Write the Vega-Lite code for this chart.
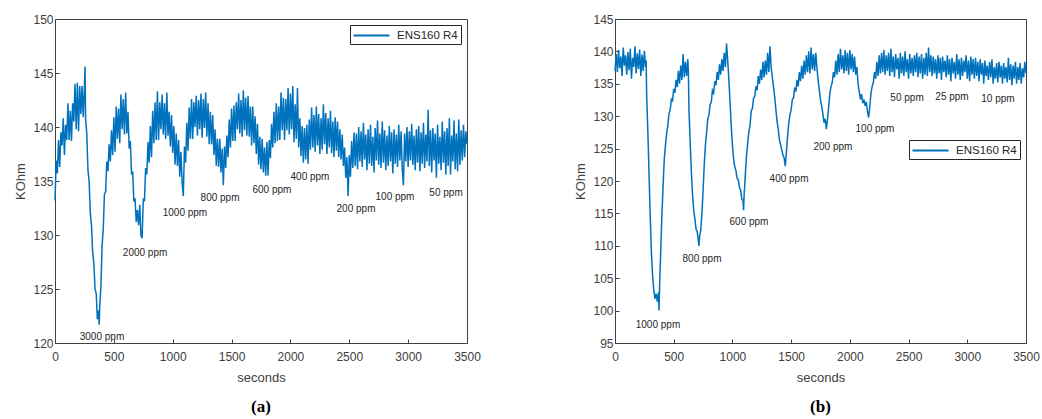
{
  "$schema": "https://vega.github.io/schema/vega-lite/v6.json",
  "padding": {"left": 14, "top": 12, "right": 0, "bottom": 2},
  "background": "white",
  "spacing": 93,
  "config": {
    "view": {"stroke": "#404040", "strokeWidth": 1},
    "axis": {
      "labelFont": "Liberation Sans", "labelFontSize": 12, "labelColor": "#404040", "labelOverlap": false,
      "titleFont": "Liberation Sans", "titleFontSize": 13, "titleFontWeight": "normal", "titleColor": "#404040",
      "domainColor": "#404040", "tickColor": "#404040", "grid": false,
      "tickSize": -4, "labelPadding": 6
    },
    "legend": {
      "title": null, "strokeColor": "#262626", "padding": 3, "fillColor": "white",
      "symbolType": "M-3,0H3", "symbolSize": 144, "symbolStrokeWidth": 2.2, "symbolOffset": 11,
      "labelFont": "Liberation Sans", "labelFontSize": 11.5, "labelColor": "#262626", "labelOffset": 18,
      "cornerRadius": 0
    },
    "title": {"font": "Liberation Serif", "fontSize": 17, "fontWeight": "bold", "color": "#000000"}
  },
  "datasets": {
    "a": [
      {"t":0,"v":133.2},{"t":10,"v":136.9},{"t":20,"v":135.7},{"t":30,"v":138.8},{"t":40,"v":136.3},{"t":50,"v":139.5},{"t":60,"v":138.3},{"t":70,"v":140.8},{"t":80,"v":137.4},{"t":90,"v":140.2},{"t":100,"v":138.8},{"t":110,"v":142.2},{"t":120,"v":138.8},{"t":130,"v":141.5},{"t":140,"v":138.7},{"t":150,"v":142.2},{"t":160,"v":140.5},{"t":170,"v":144.0},{"t":180,"v":139.8},{"t":190,"v":144.1},{"t":200,"v":139.6},{"t":210,"v":143.8},{"t":220,"v":141.2},{"t":230,"v":143.8},{"t":240,"v":140.9},{"t":250,"v":143.7},{"t":255,"v":145.6},{"t":260,"v":140.8},{"t":270,"v":139.4},{"t":280,"v":136.0},{"t":290,"v":135.0},{"t":300,"v":132.0},{"t":310,"v":130.9},{"t":320,"v":128.4},{"t":330,"v":127.4},{"t":340,"v":125.0},{"t":350,"v":124.6},{"t":360,"v":122.2},{"t":370,"v":123.0},{"t":375,"v":121.7},{"t":380,"v":123.4},{"t":390,"v":125.2},{"t":400,"v":129.0},{"t":410,"v":130.6},{"t":420,"v":133.8},{"t":430,"v":134.0},{"t":440,"v":136.8},{"t":450,"v":135.9},{"t":460,"v":138.4},{"t":470,"v":136.8},{"t":480,"v":139.7},{"t":490,"v":137.4},{"t":500,"v":140.9},{"t":510,"v":137.7},{"t":520,"v":141.9},{"t":530,"v":138.9},{"t":540,"v":141.7},{"t":550,"v":138.5},{"t":560,"v":143.0},{"t":570,"v":139.8},{"t":580,"v":142.6},{"t":590,"v":139.3},{"t":600,"v":143.2},{"t":610,"v":139.4},{"t":620,"v":141.4},{"t":630,"v":138.0},{"t":640,"v":138.7},{"t":650,"v":135.7},{"t":660,"v":135.8},{"t":670,"v":133.1},{"t":680,"v":133.4},{"t":690,"v":131.2},{"t":700,"v":132.3},{"t":710,"v":130.9},{"t":720,"v":132.8},{"t":730,"v":130.0},{"t":740,"v":129.7},{"t":750,"v":133.3},{"t":760,"v":133.2},{"t":770,"v":136.2},{"t":780,"v":135.6},{"t":790,"v":138.6},{"t":800,"v":136.7},{"t":810,"v":140.1},{"t":820,"v":137.2},{"t":830,"v":141.5},{"t":840,"v":138.5},{"t":850,"v":142.3},{"t":860,"v":138.8},{"t":870,"v":143.3},{"t":880,"v":138.8},{"t":890,"v":142.3},{"t":900,"v":139.8},{"t":910,"v":143.0},{"t":920,"v":139.3},{"t":930,"v":142.2},{"t":940,"v":138.9},{"t":950,"v":143.2},{"t":960,"v":139.2},{"t":970,"v":141.4},{"t":980,"v":138.2},{"t":990,"v":141.1},{"t":1000,"v":137.6},{"t":1010,"v":140.1},{"t":1020,"v":136.5},{"t":1030,"v":139.4},{"t":1040,"v":136.4},{"t":1050,"v":138.8},{"t":1060,"v":135.4},{"t":1070,"v":137.7},{"t":1080,"v":134.8},{"t":1090,"v":133.6},{"t":1100,"v":138.2},{"t":1110,"v":136.7},{"t":1120,"v":140.4},{"t":1130,"v":137.8},{"t":1140,"v":141.8},{"t":1150,"v":138.9},{"t":1160,"v":142.6},{"t":1170,"v":138.9},{"t":1180,"v":142.3},{"t":1190,"v":140.0},{"t":1200,"v":142.9},{"t":1210,"v":139.2},{"t":1220,"v":142.5},{"t":1230,"v":139.8},{"t":1240,"v":143.1},{"t":1250,"v":139.0},{"t":1260,"v":142.6},{"t":1270,"v":139.9},{"t":1280,"v":143.2},{"t":1290,"v":139.1},{"t":1300,"v":142.2},{"t":1310,"v":138.4},{"t":1320,"v":141.4},{"t":1330,"v":138.4},{"t":1340,"v":141.1},{"t":1350,"v":137.4},{"t":1360,"v":139.8},{"t":1370,"v":136.4},{"t":1380,"v":138.9},{"t":1390,"v":136.3},{"t":1400,"v":138.9},{"t":1410,"v":135.8},{"t":1420,"v":138.0},{"t":1430,"v":134.6},{"t":1440,"v":138.2},{"t":1450,"v":136.2},{"t":1460,"v":139.2},{"t":1470,"v":137.2},{"t":1480,"v":140.7},{"t":1490,"v":138.1},{"t":1500,"v":141.7},{"t":1510,"v":138.7},{"t":1520,"v":142.0},{"t":1530,"v":138.7},{"t":1540,"v":142.3},{"t":1550,"v":139.8},{"t":1560,"v":143.1},{"t":1570,"v":139.4},{"t":1580,"v":142.5},{"t":1590,"v":139.1},{"t":1600,"v":143.4},{"t":1610,"v":139.7},{"t":1620,"v":142.7},{"t":1630,"v":139.2},{"t":1640,"v":142.9},{"t":1650,"v":139.1},{"t":1660,"v":141.9},{"t":1670,"v":138.3},{"t":1680,"v":141.9},{"t":1690,"v":138.5},{"t":1700,"v":141.0},{"t":1710,"v":137.5},{"t":1720,"v":140.3},{"t":1730,"v":136.5},{"t":1740,"v":139.1},{"t":1750,"v":136.1},{"t":1760,"v":138.9},{"t":1770,"v":135.8},{"t":1780,"v":138.1},{"t":1790,"v":135.5},{"t":1800,"v":138.6},{"t":1810,"v":135.5},{"t":1820,"v":138.8},{"t":1830,"v":137.1},{"t":1840,"v":140.3},{"t":1850,"v":138.1},{"t":1860,"v":141.4},{"t":1870,"v":138.5},{"t":1880,"v":142.2},{"t":1890,"v":138.7},{"t":1900,"v":141.9},{"t":1910,"v":138.8},{"t":1920,"v":143.2},{"t":1930,"v":139.7},{"t":1940,"v":142.7},{"t":1950,"v":138.8},{"t":1960,"v":142.6},{"t":1970,"v":139.7},{"t":1980,"v":143.6},{"t":1990,"v":139.3},{"t":2000,"v":143.1},{"t":2010,"v":139.8},{"t":2020,"v":143.8},{"t":2030,"v":138.6},{"t":2040,"v":142.1},{"t":2050,"v":138.9},{"t":2060,"v":143.6},{"t":2070,"v":138.1},{"t":2080,"v":140.8},{"t":2090,"v":137.3},{"t":2100,"v":140.1},{"t":2110,"v":136.7},{"t":2120,"v":139.9},{"t":2130,"v":137.0},{"t":2140,"v":140.2},{"t":2150,"v":136.6},{"t":2160,"v":140.7},{"t":2170,"v":137.9},{"t":2180,"v":141.8},{"t":2190,"v":138.1},{"t":2200,"v":141.1},{"t":2210,"v":137.7},{"t":2220,"v":141.9},{"t":2230,"v":138.3},{"t":2240,"v":141.2},{"t":2250,"v":137.5},{"t":2260,"v":140.8},{"t":2270,"v":137.9},{"t":2280,"v":142.1},{"t":2290,"v":138.4},{"t":2300,"v":141.3},{"t":2310,"v":137.5},{"t":2320,"v":140.8},{"t":2330,"v":138.1},{"t":2340,"v":141.5},{"t":2350,"v":137.6},{"t":2360,"v":140.5},{"t":2370,"v":137.2},{"t":2380,"v":140.9},{"t":2390,"v":137.8},{"t":2400,"v":140.5},{"t":2410,"v":137.2},{"t":2420,"v":139.8},{"t":2430,"v":137.0},{"t":2440,"v":139.3},{"t":2450,"v":136.4},{"t":2460,"v":138.1},{"t":2470,"v":135.3},{"t":2480,"v":137.2},{"t":2490,"v":133.6},{"t":2500,"v":137.4},{"t":2510,"v":135.4},{"t":2520,"v":138.7},{"t":2530,"v":136.2},{"t":2540,"v":139.5},{"t":2550,"v":136.4},{"t":2560,"v":139.4},{"t":2570,"v":136.1},{"t":2580,"v":140.0},{"t":2590,"v":136.8},{"t":2600,"v":139.6},{"t":2610,"v":136.3},{"t":2620,"v":140.4},{"t":2630,"v":137.0},{"t":2640,"v":139.3},{"t":2650,"v":136.0},{"t":2660,"v":139.8},{"t":2670,"v":136.6},{"t":2680,"v":140.2},{"t":2690,"v":136.4},{"t":2700,"v":139.1},{"t":2710,"v":135.8},{"t":2720,"v":139.9},{"t":2730,"v":136.9},{"t":2740,"v":140.6},{"t":2750,"v":136.5},{"t":2760,"v":139.4},{"t":2770,"v":136.2},{"t":2780,"v":140.5},{"t":2790,"v":136.7},{"t":2800,"v":139.7},{"t":2810,"v":136.0},{"t":2820,"v":139.2},{"t":2830,"v":136.4},{"t":2840,"v":140.1},{"t":2850,"v":136.8},{"t":2860,"v":139.5},{"t":2870,"v":135.7},{"t":2880,"v":139.8},{"t":2890,"v":136.6},{"t":2900,"v":139.3},{"t":2910,"v":136.3},{"t":2920,"v":140.2},{"t":2930,"v":136.9},{"t":2940,"v":139.6},{"t":2950,"v":136.1},{"t":2960,"v":134.6},{"t":2970,"v":139.4},{"t":2980,"v":136.8},{"t":2990,"v":140.0},{"t":3000,"v":136.3},{"t":3010,"v":139.6},{"t":3020,"v":136.9},{"t":3030,"v":140.3},{"t":3040,"v":136.5},{"t":3050,"v":139.2},{"t":3060,"v":136.0},{"t":3070,"v":139.8},{"t":3080,"v":136.7},{"t":3090,"v":140.1},{"t":3100,"v":135.9},{"t":3110,"v":139.5},{"t":3120,"v":136.6},{"t":3130,"v":140.4},{"t":3140,"v":136.2},{"t":3150,"v":139.3},{"t":3160,"v":136.8},{"t":3170,"v":141.6},{"t":3180,"v":136.4},{"t":3190,"v":139.7},{"t":3200,"v":135.8},{"t":3210,"v":139.9},{"t":3220,"v":136.9},{"t":3230,"v":139.4},{"t":3240,"v":135.3},{"t":3250,"v":140.2},{"t":3260,"v":136.6},{"t":3270,"v":139.1},{"t":3280,"v":136.0},{"t":3290,"v":140.5},{"t":3300,"v":136.7},{"t":3310,"v":139.6},{"t":3320,"v":135.6},{"t":3330,"v":139.9},{"t":3340,"v":136.4},{"t":3350,"v":140.8},{"t":3360,"v":135.6},{"t":3370,"v":139.2},{"t":3380,"v":136.8},{"t":3390,"v":140.6},{"t":3400,"v":136.1},{"t":3410,"v":139.4},{"t":3420,"v":135.9},{"t":3430,"v":140.7},{"t":3440,"v":136.5},{"t":3450,"v":139.7},{"t":3460,"v":136.9},{"t":3470,"v":140.2},{"t":3480,"v":137.2},{"t":3490,"v":139.6},{"t":3500,"v":138.4}
    ],
    "b": [
      {"t":0,"v":137.0},{"t":10,"v":139.6},{"t":20,"v":136.8},{"t":30,"v":140.2},{"t":40,"v":137.4},{"t":50,"v":139.2},{"t":60,"v":136.2},{"t":70,"v":140.6},{"t":80,"v":137.8},{"t":90,"v":139.4},{"t":100,"v":136.4},{"t":110,"v":139.9},{"t":120,"v":137.1},{"t":130,"v":140.4},{"t":140,"v":135.8},{"t":150,"v":139.0},{"t":160,"v":137.6},{"t":170,"v":140.8},{"t":180,"v":136.6},{"t":190,"v":139.7},{"t":200,"v":137.3},{"t":210,"v":140.3},{"t":220,"v":136.2},{"t":230,"v":139.5},{"t":240,"v":137.0},{"t":250,"v":140.1},{"t":260,"v":137.6},{"t":265,"v":138.6},{"t":270,"v":133.0},{"t":280,"v":127.5},{"t":290,"v":121.0},{"t":300,"v":114.5},{"t":310,"v":109.0},{"t":320,"v":105.5},{"t":330,"v":103.2},{"t":340,"v":101.8},{"t":350,"v":102.6},{"t":360,"v":101.4},{"t":370,"v":102.8},{"t":375,"v":100.0},{"t":380,"v":104.0},{"t":390,"v":109.5},{"t":400,"v":115.0},{"t":410,"v":119.5},{"t":420,"v":123.5},{"t":430,"v":125.6},{"t":440,"v":127.4},{"t":450,"v":128.6},{"t":460,"v":130.4},{"t":470,"v":131.0},{"t":480,"v":132.6},{"t":490,"v":132.4},{"t":500,"v":134.2},{"t":510,"v":133.6},{"t":520,"v":135.6},{"t":530,"v":134.5},{"t":540,"v":137.0},{"t":550,"v":135.0},{"t":560,"v":137.8},{"t":570,"v":135.6},{"t":580,"v":139.6},{"t":590,"v":136.0},{"t":600,"v":138.4},{"t":610,"v":136.2},{"t":620,"v":138.8},{"t":625,"v":136.8},{"t":630,"v":131.0},{"t":640,"v":126.0},{"t":650,"v":121.5},{"t":660,"v":118.0},{"t":670,"v":115.5},{"t":680,"v":114.2},{"t":690,"v":112.6},{"t":700,"v":112.2},{"t":710,"v":110.8},{"t":715,"v":110.0},{"t":720,"v":111.4},{"t":730,"v":112.4},{"t":740,"v":115.0},{"t":750,"v":118.5},{"t":760,"v":122.5},{"t":770,"v":125.6},{"t":780,"v":127.4},{"t":790,"v":129.6},{"t":800,"v":130.2},{"t":810,"v":131.8},{"t":820,"v":132.2},{"t":830,"v":134.0},{"t":840,"v":133.6},{"t":850,"v":135.4},{"t":860,"v":134.8},{"t":870,"v":136.8},{"t":880,"v":135.6},{"t":890,"v":138.0},{"t":900,"v":136.4},{"t":910,"v":138.8},{"t":920,"v":137.0},{"t":930,"v":139.8},{"t":940,"v":137.6},{"t":950,"v":141.2},{"t":960,"v":138.5},{"t":970,"v":135.5},{"t":980,"v":132.0},{"t":990,"v":128.5},{"t":1000,"v":125.5},{"t":1010,"v":123.4},{"t":1020,"v":122.2},{"t":1030,"v":121.6},{"t":1040,"v":120.4},{"t":1050,"v":120.2},{"t":1060,"v":119.0},{"t":1070,"v":118.6},{"t":1080,"v":117.2},{"t":1090,"v":117.0},{"t":1095,"v":115.5},{"t":1100,"v":118.0},{"t":1110,"v":121.0},{"t":1120,"v":124.0},{"t":1130,"v":125.8},{"t":1140,"v":127.6},{"t":1150,"v":128.6},{"t":1160,"v":130.8},{"t":1170,"v":131.2},{"t":1180,"v":132.8},{"t":1190,"v":133.0},{"t":1200,"v":134.6},{"t":1210,"v":134.0},{"t":1220,"v":136.2},{"t":1230,"v":135.0},{"t":1240,"v":137.2},{"t":1250,"v":135.6},{"t":1260,"v":138.4},{"t":1270,"v":136.0},{"t":1280,"v":138.6},{"t":1290,"v":136.4},{"t":1300,"v":139.8},{"t":1310,"v":136.8},{"t":1320,"v":140.8},{"t":1330,"v":137.4},{"t":1340,"v":136.0},{"t":1350,"v":134.5},{"t":1360,"v":133.0},{"t":1370,"v":131.0},{"t":1380,"v":129.2},{"t":1390,"v":128.0},{"t":1400,"v":126.4},{"t":1410,"v":125.6},{"t":1420,"v":124.8},{"t":1430,"v":124.0},{"t":1440,"v":123.6},{"t":1450,"v":122.3},{"t":1460,"v":124.5},{"t":1470,"v":127.0},{"t":1480,"v":129.0},{"t":1490,"v":130.2},{"t":1500,"v":131.0},{"t":1510,"v":132.6},{"t":1520,"v":132.8},{"t":1530,"v":134.4},{"t":1540,"v":133.8},{"t":1550,"v":135.6},{"t":1560,"v":134.6},{"t":1570,"v":136.8},{"t":1580,"v":135.4},{"t":1590,"v":137.8},{"t":1600,"v":135.8},{"t":1610,"v":138.6},{"t":1620,"v":136.4},{"t":1630,"v":139.4},{"t":1640,"v":136.8},{"t":1650,"v":140.0},{"t":1660,"v":136.6},{"t":1670,"v":140.6},{"t":1680,"v":137.2},{"t":1690,"v":139.6},{"t":1700,"v":137.0},{"t":1710,"v":139.8},{"t":1720,"v":137.4},{"t":1730,"v":135.5},{"t":1740,"v":134.0},{"t":1750,"v":132.5},{"t":1760,"v":131.5},{"t":1770,"v":130.4},{"t":1780,"v":129.0},{"t":1790,"v":129.6},{"t":1800,"v":128.0},{"t":1810,"v":129.5},{"t":1820,"v":131.5},{"t":1830,"v":133.6},{"t":1840,"v":134.6},{"t":1850,"v":135.2},{"t":1860,"v":136.8},{"t":1870,"v":136.0},{"t":1880,"v":138.6},{"t":1890,"v":136.4},{"t":1900,"v":139.6},{"t":1910,"v":136.8},{"t":1920,"v":140.4},{"t":1930,"v":137.2},{"t":1940,"v":139.4},{"t":1950,"v":136.6},{"t":1960,"v":140.2},{"t":1970,"v":137.0},{"t":1980,"v":139.8},{"t":1990,"v":136.4},{"t":2000,"v":140.2},{"t":2010,"v":137.2},{"t":2020,"v":139.6},{"t":2030,"v":136.8},{"t":2040,"v":139.2},{"t":2050,"v":136.4},{"t":2060,"v":137.6},{"t":2070,"v":135.0},{"t":2080,"v":133.8},{"t":2090,"v":132.6},{"t":2100,"v":133.4},{"t":2110,"v":132.0},{"t":2120,"v":132.6},{"t":2130,"v":131.6},{"t":2140,"v":132.2},{"t":2150,"v":130.8},{"t":2160,"v":129.8},{"t":2170,"v":131.5},{"t":2180,"v":133.6},{"t":2190,"v":134.6},{"t":2200,"v":135.2},{"t":2210,"v":136.8},{"t":2220,"v":135.8},{"t":2230,"v":138.4},{"t":2240,"v":136.2},{"t":2250,"v":139.4},{"t":2260,"v":136.6},{"t":2270,"v":139.8},{"t":2280,"v":136.8},{"t":2290,"v":140.2},{"t":2300,"v":136.4},{"t":2310,"v":139.4},{"t":2320,"v":137.0},{"t":2330,"v":139.8},{"t":2340,"v":136.2},{"t":2350,"v":140.4},{"t":2360,"v":136.8},{"t":2370,"v":139.2},{"t":2380,"v":136.0},{"t":2390,"v":139.6},{"t":2400,"v":137.2},{"t":2410,"v":139.0},{"t":2420,"v":135.8},{"t":2430,"v":139.8},{"t":2440,"v":136.6},{"t":2450,"v":139.2},{"t":2460,"v":136.2},{"t":2470,"v":140.0},{"t":2480,"v":136.8},{"t":2490,"v":138.8},{"t":2500,"v":135.8},{"t":2510,"v":139.6},{"t":2520,"v":136.6},{"t":2530,"v":139.0},{"t":2540,"v":136.2},{"t":2550,"v":139.4},{"t":2560,"v":136.8},{"t":2570,"v":139.8},{"t":2580,"v":136.0},{"t":2590,"v":139.2},{"t":2600,"v":136.6},{"t":2610,"v":139.6},{"t":2620,"v":135.8},{"t":2630,"v":139.0},{"t":2640,"v":136.4},{"t":2650,"v":139.8},{"t":2660,"v":136.2},{"t":2670,"v":140.6},{"t":2680,"v":136.8},{"t":2690,"v":139.4},{"t":2700,"v":136.2},{"t":2710,"v":139.2},{"t":2720,"v":136.6},{"t":2730,"v":138.8},{"t":2740,"v":135.8},{"t":2750,"v":139.4},{"t":2760,"v":136.6},{"t":2770,"v":139.0},{"t":2780,"v":135.6},{"t":2790,"v":139.2},{"t":2800,"v":136.8},{"t":2810,"v":138.6},{"t":2820,"v":136.0},{"t":2830,"v":139.4},{"t":2840,"v":136.4},{"t":2850,"v":138.8},{"t":2860,"v":135.4},{"t":2870,"v":139.0},{"t":2880,"v":136.6},{"t":2890,"v":138.4},{"t":2900,"v":135.8},{"t":2910,"v":139.6},{"t":2920,"v":136.4},{"t":2930,"v":138.8},{"t":2940,"v":135.6},{"t":2950,"v":139.0},{"t":2960,"v":136.2},{"t":2970,"v":138.6},{"t":2980,"v":136.8},{"t":2990,"v":139.4},{"t":3000,"v":135.8},{"t":3010,"v":138.6},{"t":3020,"v":135.4},{"t":3030,"v":139.2},{"t":3040,"v":136.4},{"t":3050,"v":138.8},{"t":3060,"v":135.8},{"t":3070,"v":139.0},{"t":3080,"v":136.2},{"t":3090,"v":138.4},{"t":3100,"v":135.4},{"t":3110,"v":138.8},{"t":3120,"v":136.4},{"t":3130,"v":138.2},{"t":3140,"v":135.0},{"t":3150,"v":138.6},{"t":3160,"v":136.2},{"t":3170,"v":137.8},{"t":3180,"v":135.6},{"t":3190,"v":138.4},{"t":3200,"v":136.0},{"t":3210,"v":138.8},{"t":3220,"v":135.0},{"t":3230,"v":137.6},{"t":3240,"v":135.8},{"t":3250,"v":138.2},{"t":3260,"v":135.2},{"t":3270,"v":138.4},{"t":3280,"v":136.0},{"t":3290,"v":137.8},{"t":3300,"v":135.0},{"t":3310,"v":138.2},{"t":3320,"v":135.8},{"t":3330,"v":137.6},{"t":3340,"v":135.2},{"t":3350,"v":139.0},{"t":3360,"v":135.6},{"t":3370,"v":138.0},{"t":3380,"v":134.8},{"t":3390,"v":137.8},{"t":3400,"v":135.8},{"t":3410,"v":138.4},{"t":3420,"v":135.0},{"t":3430,"v":137.6},{"t":3440,"v":135.6},{"t":3450,"v":138.2},{"t":3460,"v":135.0},{"t":3470,"v":137.4},{"t":3480,"v":136.0},{"t":3490,"v":138.4},{"t":3500,"v":136.6}
    ],
    "la": [
      {"t":399,"v":120.6,"label":"3000 ppm"},{"t":765,"v":128.3,"label":"2000 ppm"},{"t":1104,"v":132.0,"label":"1000 ppm"},{"t":1402,"v":133.4,"label":"800 ppm"},{"t":1843,"v":134.2,"label":"600 ppm"},{"t":2166,"v":135.4,"label":"400 ppm"},{"t":2557,"v":132.4,"label":"200 ppm"},{"t":2888,"v":133.5,"label":"100 ppm"},{"t":3322,"v":133.9,"label":"50 ppm"}
    ],
    "lb": [
      {"t":366,"v":97.8,"label":"1000 ppm"},{"t":741,"v":108.0,"label":"800 ppm"},{"t":1141,"v":113.7,"label":"600 ppm"},{"t":1482,"v":120.3,"label":"400 ppm"},{"t":1856,"v":125.25,"label":"200 ppm"},{"t":2214,"v":128.0,"label":"100 ppm"},{"t":2487,"v":132.8,"label":"50 ppm"},{"t":2870,"v":133.0,"label":"25 ppm"},{"t":3261,"v":132.6,"label":"10 ppm"}
    ]
  },
  "resolve": {"scale": {"color": "independent"}, "legend": {"color": "independent"}},
  "hconcat": [
    {
      "width": 412, "height": 324,
      "title": {"text": "(a)", "orient": "bottom", "offset": 15},
      "layer": [
        {
          "data": {"name": "a"},
          "mark": {"type": "line", "strokeWidth": 1.5},
          "encoding": {
            "x": {"field": "t", "type": "quantitative", "scale": {"domain": [0, 3500], "nice": false, "zero": false}, "axis": {"values": [0,500,1000,1500,2000,2500,3000,3500], "format": "d", "title": "seconds", "labelPadding": 12, "titlePadding": 9, "labelFlush": false, "labelOverlap": false}},
            "y": {"field": "v", "type": "quantitative", "scale": {"domain": [120, 150], "nice": false, "zero": false}, "axis": {"values": [120,125,130,135,140,145,150], "title": "KOhm", "titlePadding": 5, "labelOverlap": false}},
            "color": {"datum": "ENS160 R4", "scale": {"range": ["#0072BD"]}, "legend": {"orient": "top-right", "offset": 6}}
          }
        },
        {
          "data": {"name": "la"},
          "mark": {"type": "text", "font": "Liberation Sans", "fontSize": 10, "color": "#262626", "align": "center", "baseline": "middle"},
          "encoding": {
            "x": {"field": "t", "type": "quantitative", "axis": {"values": [0,500,1000,1500,2000,2500,3000,3500], "format": "d", "title": "seconds", "labelPadding": 12, "titlePadding": 9, "labelFlush": false, "labelOverlap": false}},
            "y": {"field": "v", "type": "quantitative", "axis": {"values": [120,125,130,135,140,145,150], "title": "KOhm", "titlePadding": 5, "labelOverlap": false}},
            "text": {"field": "label"}
          }
        }
      ]
    },
    {
      "width": 411, "height": 324,
      "title": {"text": "(b)", "orient": "bottom", "offset": 15},
      "layer": [
        {
          "data": {"name": "b"},
          "mark": {"type": "line", "strokeWidth": 1.5},
          "encoding": {
            "x": {"field": "t", "type": "quantitative", "scale": {"domain": [0, 3500], "nice": false, "zero": false}, "axis": {"values": [0,500,1000,1500,2000,2500,3000,3500], "format": "d", "title": "seconds", "labelPadding": 12, "titlePadding": 9, "labelFlush": false, "labelOverlap": false}},
            "y": {"field": "v", "type": "quantitative", "scale": {"domain": [95, 145], "nice": false, "zero": false}, "axis": {"values": [95,100,105,110,115,120,125,130,135,140,145], "title": "KOhm", "titlePadding": 5, "labelOverlap": false, "labelSeparation": 0}},
            "color": {"datum": "ENS160 R4", "scale": {"range": ["#0072BD"]}, "legend": {"orient": "none", "legendX": 294, "legendY": 121}}
          }
        },
        {
          "data": {"name": "lb"},
          "mark": {"type": "text", "font": "Liberation Sans", "fontSize": 10, "color": "#262626", "align": "center", "baseline": "middle"},
          "encoding": {
            "x": {"field": "t", "type": "quantitative", "axis": {"values": [0,500,1000,1500,2000,2500,3000,3500], "format": "d", "title": "seconds", "labelPadding": 12, "titlePadding": 9, "labelFlush": false, "labelOverlap": false}},
            "y": {"field": "v", "type": "quantitative", "axis": {"values": [95,100,105,110,115,120,125,130,135,140,145], "title": "KOhm", "titlePadding": 5, "labelOverlap": false, "labelSeparation": 0}},
            "text": {"field": "label"}
          }
        }
      ]
    }
  ]
}
